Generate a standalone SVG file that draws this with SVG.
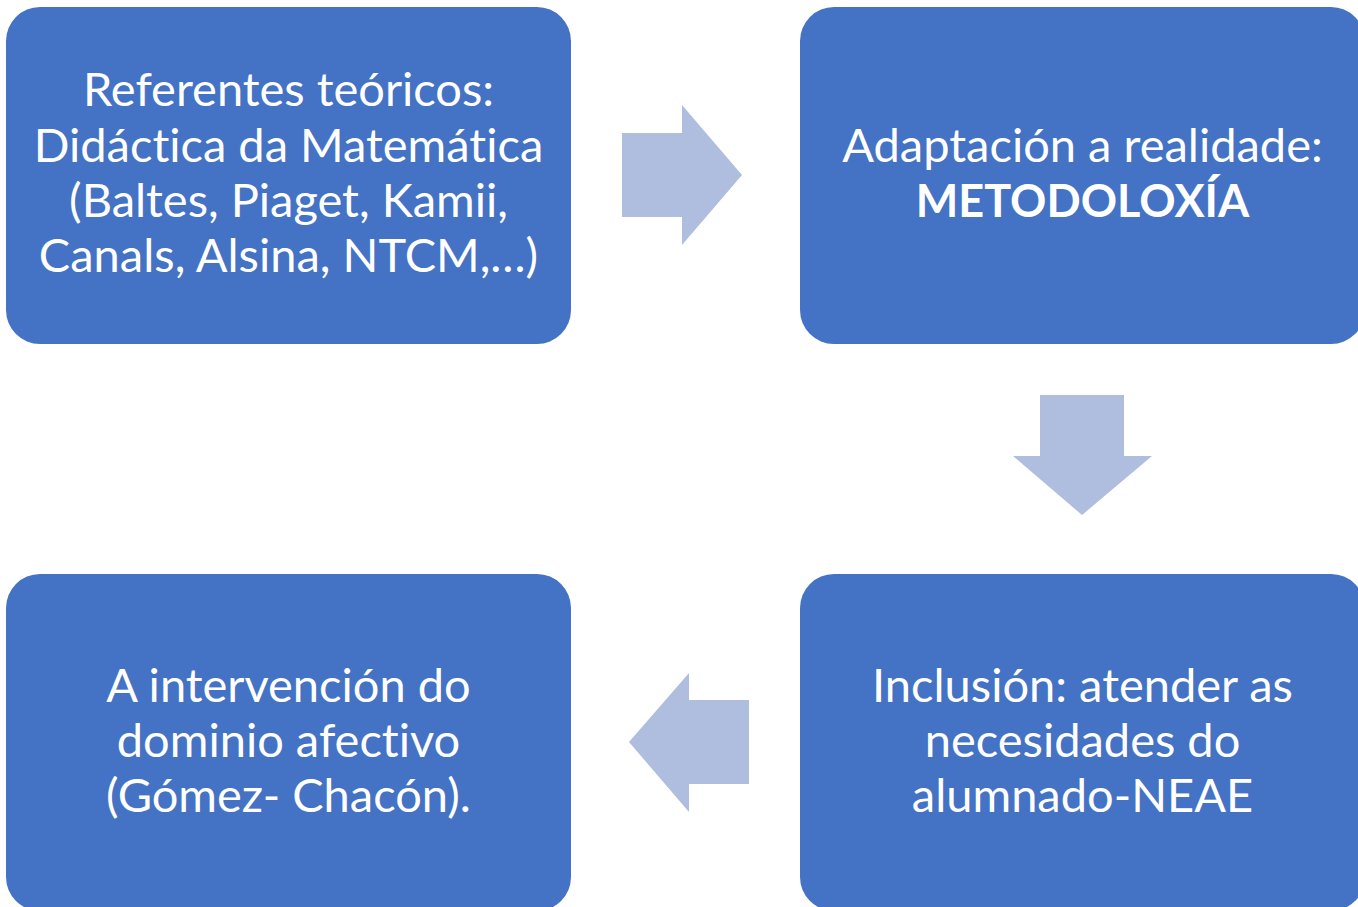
<svg xmlns="http://www.w3.org/2000/svg" width="1358" height="907" viewBox="0 0 1358 907">
<style>
.box{fill:#4472C4}
.arr{fill:#AFBDDF}
.t{font-family:Lato,"Liberation Sans",sans-serif;font-size:47px;fill:#FFFFFF;text-anchor:middle;font-variant-ligatures:none}
.b{font-weight:bold;font-size:45px}
</style>
<rect width="1358" height="907" fill="#FFFFFF"/>
<g id="connectors">
<polygon class="arr" points="622,133 682,133 682,105 742,175 682,245 682,217 622,217"/>
<polygon class="arr" points="1040,395 1124,395 1124,456 1152,456 1082,515 1013,456 1040,456"/>
<polygon class="arr" points="749,700 689,700 689,673 629,742 689,812 689,784 749,784"/>
</g>
<g id="node1">
<rect class="box" x="6" y="7" width="565" height="337" rx="34"/>
<text class="t" x="288.5" y="106">Referentes teóricos:</text>
<text class="t" x="288.5" y="162">Didáctica da Matemática</text>
<text class="t" x="288.5" y="217">(Baltes, Piaget, Kamii,</text>
<text class="t" x="288.5" y="272">Canals, Alsina, NTCM,…)</text>
</g>
<g id="node2">
<rect class="box" x="800" y="7" width="565" height="337" rx="34"/>
<text class="t" x="1082.5" y="162">Adaptación a realidade:</text>
<text class="t b" x="1082.5" y="217">METODOLOXÍA</text>
</g>
<g id="node3">
<rect class="box" x="800" y="574" width="565" height="337" rx="34"/>
<text class="t" x="1082.5" y="702">Inclusión: atender as</text>
<text class="t" x="1082.5" y="757">necesidades do</text>
<text class="t" x="1082.5" y="812">alumnado-NEAE</text>
</g>
<g id="node4">
<rect class="box" x="6" y="574" width="565" height="337" rx="34"/>
<text class="t" x="288.5" y="702">A intervención do</text>
<text class="t" x="288.5" y="757">dominio afectivo</text>
<text class="t" x="288.5" y="812">(Gómez- Chacón).</text>
</g>
</svg>
